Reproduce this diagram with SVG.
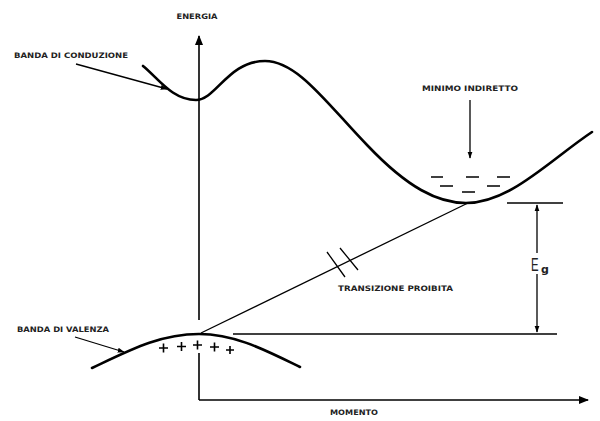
<svg xmlns="http://www.w3.org/2000/svg" width="600" height="421" viewBox="0 0 600 421">
<style>
.lbl{font-family:"DejaVu Sans","Liberation Sans",sans-serif;font-weight:bold;font-size:7.5px;fill:#222}
.band{fill:none;stroke:#000;stroke-width:2.6;stroke-linecap:round;stroke-linejoin:round}
.ln{fill:none;stroke:#000;stroke-width:1.6}
.thin{fill:none;stroke:#000;stroke-width:1.3}
.dash{stroke:#000;stroke-width:1.6}
</style>
<defs>
<marker id="ah" viewBox="0 0 10 10" refX="9" refY="5" markerWidth="10" markerHeight="10" markerUnits="userSpaceOnUse" orient="auto">
<path d="M0,1 L10,5 L0,9 Z" fill="#000"/>
</marker>
<marker id="ahs" viewBox="0 0 10 10" refX="9" refY="5" markerWidth="7" markerHeight="7" markerUnits="userSpaceOnUse" orient="auto-start-reverse">
<path d="M0,1.5 L10,5 L0,8.5 Z" fill="#000"/>
</marker>
</defs>
<rect width="600" height="421" fill="#fff"/>

<g id="axes">
<path class="ln" d="M199,400 L199,353" />
<path class="ln" d="M199,320 L199,36" marker-end="url(#ah)"/>
<path class="ln" d="M199,400 L588,400" marker-end="url(#ah)"/>
<text class="lbl" x="197" y="19" text-anchor="middle" textLength="41" lengthAdjust="spacingAndGlyphs">ENERGIA</text>
<text class="lbl" x="354" y="415" text-anchor="middle" textLength="48" lengthAdjust="spacingAndGlyphs">MOMENTO</text>
</g>

<g id="conduction-band">
<path class="band" d="M143,66 C158,78 172,100 196,100 C216,100 228,61 265,61 C298,61 328,105 368,146 C408,188 438,203 466,203 C510,203 550,160 592,132"/>
<text class="lbl" x="14" y="58" textLength="114" lengthAdjust="spacingAndGlyphs">BANDA DI CONDUZIONE</text>
<path class="thin" d="M76,64 L167,89" marker-end="url(#ahs)"/>
</g>

<g id="valence-band">
<path class="band" d="M92,368 C130,350 160,334 199,334 C235,334 265,350 300,367"/>
<text class="lbl" x="17" y="332" textLength="92" lengthAdjust="spacingAndGlyphs">BANDA DI VALENZA</text>
<path class="thin" d="M75,337 L124,352" marker-end="url(#ahs)"/>
<g class="dash">
<path d="M159,348 h9 M163.5,343.5 v9"/>
<path d="M177,346.5 h9 M181.5,342 v9"/>
<path d="M193,345 h9 M197.5,340.5 v9"/>
<path d="M210,347 h9 M214.5,342.5 v9"/>
<path d="M226,350 h8 M230,346 v8"/>
</g>
</g>

<g id="indirect-minimum">
<text class="lbl" x="470" y="91" text-anchor="middle" textLength="96" lengthAdjust="spacingAndGlyphs">MINIMO INDIRETTO</text>
<path class="thin" d="M470,100 L470,158" marker-end="url(#ahs)"/>
<g class="dash">
<path d="M431,177 h12 M466,177 h13 M497,177 h13 M440,186 h13 M487,186 h13 M462,192 h13"/>
</g>
</g>

<g id="transition">
<path class="thin" d="M201,333 L468,203"/>
<path class="thin" d="M327,252 L345,277 M340,248 L358,270"/>
<text class="lbl" x="338" y="291" textLength="115" lengthAdjust="spacingAndGlyphs">TRANSIZIONE PROIBITA</text>
</g>

<g id="energy-gap">
<path class="ln" d="M507,203 L563,203"/>
<path class="ln" d="M233,334 L557,334"/>
<path class="thin" d="M537,253 L537,205" marker-end="url(#ahs)"/>
<path class="thin" d="M537,274 L537,332" marker-end="url(#ahs)"/>
<text x="0" y="0" transform="translate(531,271) scale(0.6,1)" font-family="Liberation Sans,sans-serif" font-size="19" fill="#222">E</text>
<text x="541" y="273" font-family="DejaVu Sans,sans-serif" font-weight="bold" font-size="11" fill="#222">g</text>
</g>
</svg>
